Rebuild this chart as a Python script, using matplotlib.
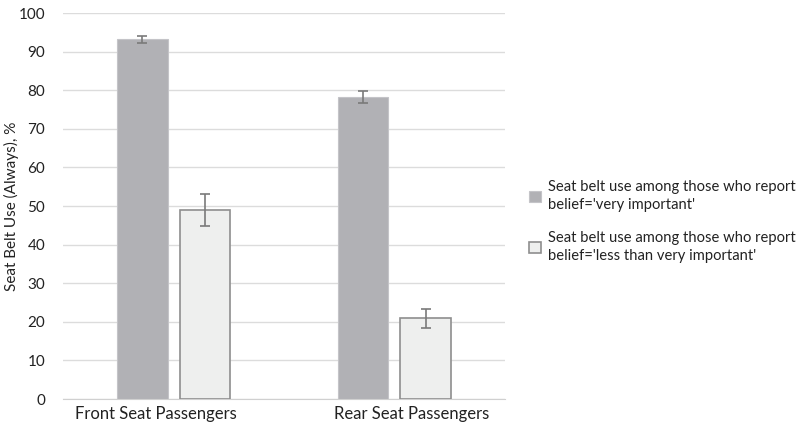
import matplotlib.pyplot as plt
import numpy as np

plt.rcParams['font.family'] = ['Lato', 'DejaVu Sans']

categories = ['Front Seat Passengers', 'Rear Seat Passengers']
very_important = [93.2, 78.3]
very_important_err = [0.95, 1.5]
less_important = [49.0, 20.9]
less_important_err = [4.1, 2.4]
labels = ["Seat belt use among those who report\nbelief='very important'",
          "Seat belt use among those who report\nbelief='less than very important'"]

fig = plt.figure(figsize=(8, 4.22), dpi=100)
ax = fig.add_axes([0.079, 0.0545, 0.552, 0.9145])

x = np.arange(len(categories))
w = 0.23
off = 0.1425
b1 = ax.bar(x - off, very_important, w, color='#b1b1b5', edgecolor='#c4c4c8', linewidth=0.8,
            yerr=very_important_err, error_kw=dict(ecolor='#7a7a7a', elinewidth=1.2, capsize=3.5, capthick=1.2),
            label=labels[0], zorder=3)
b2 = ax.bar(x + off, less_important, w, color='#eeefee', edgecolor='#8e8e8e', linewidth=1.2,
            yerr=less_important_err, error_kw=dict(ecolor='#7a7a7a', elinewidth=1.2, capsize=3.5, capthick=1.2),
            label=labels[1], zorder=3)

ax.set_xlim(-0.5, 1.5)
ax.set_ylim(0, 100)
ax.set_yticks(range(0, 101, 10))
ax.set_xticks(x)
ax.set_xticklabels([])
# category labels, nudged outward like the original
for xi, name, dx in zip(x, categories, [-18, 17]):
    ax.annotate(name, xy=(xi, 0), xycoords=('data', 'axes fraction'),
                xytext=(dx * 0.72, -5), textcoords='offset points',
                ha='center', va='top', fontsize=12, color='#222222')
ax.tick_params(axis='y', labelsize=11, colors='#222222', length=0, pad=13)
ax.tick_params(axis='x', length=0)
ax.yaxis.grid(True, color='#dcdcdc', linewidth=1, zorder=0)
ax.set_axisbelow(True)
for s in ['top', 'right', 'left']:
    ax.spines[s].set_visible(False)
ax.spines['bottom'].set_color('#d0d0d0')
ax.set_ylabel('Seat Belt Use (Always), %', fontsize=11, color='#222222')
ax.yaxis.set_label_coords(-0.1, 0.5)

leg = fig.legend(handles=[b1, b2], labels=labels, loc='center left', bbox_to_anchor=(0.645, 0.475),
                 frameon=False, fontsize=10.6, handlelength=0.8, handleheight=0.8, handletextpad=0.5,
                 labelspacing=1.3, labelcolor='#222222')
for t in leg.get_texts():
    t.set_linespacing(1.35)

fig.savefig('out.png', dpi=100)
